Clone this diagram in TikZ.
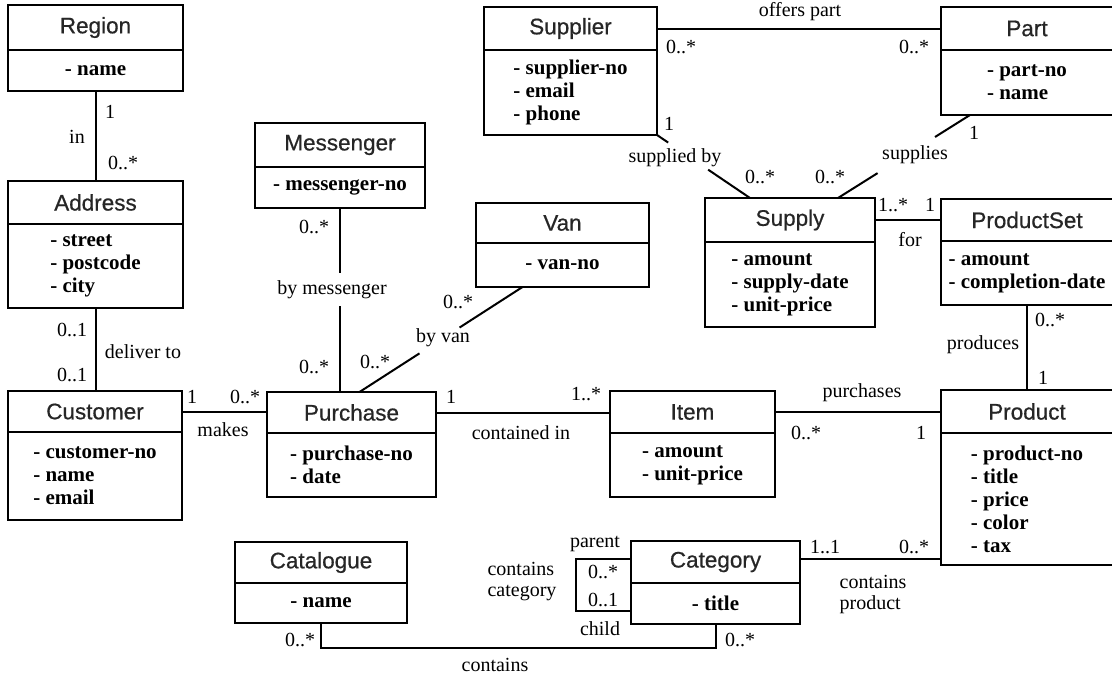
\documentclass[tikz,border=0pt]{standalone}
\usepackage{fontspec}
\setmainfont{Liberation Serif}
\newfontfamily\classtitlefont[FakeBold=0.6]{Liberation Sans}
\usetikzlibrary{calc}

\tikzset{
  classbox/.style={draw, line width=2pt, inner sep=0pt, outer sep=0pt, fill=white},
  boxline/.style={line width=2pt},
  ctitle/.style={font=\classtitlefont\fontsize{22.5}{26}\selectfont, text=black!85, inner sep=0pt},
  cattr/.style={font=\bfseries\fontsize{21}{23}\selectfont, align=left, inner sep=0pt},
  lbl/.style={font=\fontsize{20}{21}\selectfont, inner sep=0pt, align=left},
  conn/.style={line width=2pt, line cap=butt},
}

% #1 name, #2 left, #3 top, #4 right, #5 divider, #6 bottom, #7 title, #8 attributes
\newcommand{\umlclass}[8]{%
  \node[classbox, minimum width={#4-#2}, minimum height={#6-#3}] (#1) at ({(#2+#4)/2},{(#3+#6)/2}) {};
  \draw[boxline] (#2,#5) -- (#4,#5);
  \node[ctitle] (#1-t) at ({(#2+#4)/2},{(#3+#5)/2}) {#7};
  \node[cattr] (#1-a) at ({(#2+#4)/2},{(#5+#6)/2}) {#8};
}

\begin{document}
\begin{tikzpicture}[x=1pt, y=-1pt]
\useasboundingbox (0,0) rectangle (1112,675);

% classes
\umlclass{region}{8}{5}{183}{50}{91}{Region}{- name}
\umlclass{address}{8}{181}{183}{224}{308}{Address}{- street\\- postcode\\- city}
\umlclass{customer}{8}{391}{182}{432}{520}{Customer}{- customer-no\\- name\\- email}
\umlclass{messenger}{255}{123}{425}{167}{208}{Messenger}{- messenger-no}
\umlclass{van}{476}{203}{649}{243}{287}{Van}{- van-no}
\umlclass{purchase}{267}{392}{436}{433}{497}{Purchase}{- purchase-no\\- date}
\umlclass{supplier}{484}{7}{657}{50}{135}{Supplier}{- supplier-no\\- email\\- phone}
\umlclass{part}{941}{7}{1113}{50}{115}{Part}{- part-no\\- name}
\umlclass{supply}{705}{198}{875}{242}{327}{Supply}{- amount\\- supply-date\\- unit-price}
\umlclass{productset}{941}{199}{1113}{241}{305}{ProductSet}{- amount\\- completion-date}
\umlclass{item}{610}{391}{775}{433}{497}{Item}{- amount\\- unit-price}
\umlclass{product}{941}{390}{1113}{433}{565}{Product}{- product-no\\- title\\- price\\- color\\- tax}
\umlclass{catalogue}{235}{542}{407}{583}{623}{Catalogue}{- name}
\umlclass{category}{631}{541}{800}{583}{624}{Category}{- title}

% associations
\draw[conn] (region.south) -- (region.south |- address.north);
\draw[conn] (address.south) -- (address.south |- customer.north);
\draw[conn] (customer-t -| customer.east) -- (customer-t -| purchase.west);
\draw[conn] (purchase-t -| purchase.east) -- (purchase-t -| item.west);
\draw[conn] (item-t -| item.east) -- (item-t -| product.west);
\draw[conn] (supplier-t -| supplier.east) -- (supplier-t -| part.west);
\draw[conn] (productset-t -| supply.east) -- (productset-t -| productset.west);
\draw[conn] (productset.south) -- (productset.south |- product.north);
\draw[conn] ([yshift=-18pt]category.north east) -- ([yshift=-18pt]category.north east -| product.west);
\draw[conn] (catalogue.south) -- ++(0,25) -| (category.south);

% recursive association of Category
\draw[conn] ([yshift=-18pt]category.north west) -- ++(-55,0) -- ++(0,52) -- ([yshift=-70pt]category.north west);

% associations broken by their names
\path (messenger.south) -- (messenger.south |- purchase.north)
  coordinate[pos=0.353] (m1) coordinate[pos=0.533] (m2);
\draw[conn] (messenger.south) -- (m1);
\draw[conn] (m2) -- (messenger.south |- purchase.north);

\path ([xshift=-40pt]van.south) -- ([xshift=8pt]purchase.north)
  coordinate[pos=0.386] (v1) coordinate[pos=0.632] (v2);
\draw[conn] ([xshift=-40pt]van.south) -- (v1);
\draw[conn] (v2) -- ([xshift=8pt]purchase.north);

\path (supplier.south east) -- ([xshift=-40pt]supply.north)
  coordinate[pos=0.12] (s1) coordinate[pos=0.55] (s2);
\draw[conn] (supplier.south east) -- (s1);
\draw[conn] (s2) -- ([xshift=-40pt]supply.north);

\path ([xshift=-57pt]part.south) -- ([xshift=48pt]supply.north)
  coordinate[pos=0.265] (p1) coordinate[pos=0.70] (p2);
\draw[conn] ([xshift=-57pt]part.south) -- (p1);
\draw[conn] (p2) -- ([xshift=48pt]supply.north);

% names and multiplicities
\node[lbl] (l1) at (110,112) {1};
\node[lbl] (l2) at (77,137) {in};
\node[lbl] (l3) at (123,163) {0..*};

\node[lbl] (l4) at (72,330) {0..1};
\node[lbl] (l5) at (143,352) {deliver to};
\node[lbl] (l6) at (72,375) {0..1};

\node[lbl] (l7) at (192,397) {1};
\node[lbl] (l8) at (245,397) {0..*};
\node[lbl] (l9) at (223,430) {makes};

\node[lbl] (l10) at (314,227) {0..*};
\node[lbl] (l11) at (332,290) {by messenger};
\node[lbl] (l12) at (314,367) {0..*};

\node[lbl] (l13) at (458,302) {0..*};
\node[lbl] (l14) at (443,338) {by van};
\node[lbl] (l15) at (375,362) {0..*};

\node[lbl] (l16) at (451,397) {1};
\node[lbl] (l17) at (586,394) {1..*};
\node[lbl] (l18) at (521,433) {contained in};

\node[lbl] (l19) at (862,393) {purchases};
\node[lbl] (l20) at (806,433) {0..*};
\node[lbl] (l21) at (921,433) {1};

\node[lbl] (l22) at (800,12) {offers part};
\node[lbl] (l23) at (681,47) {0..*};
\node[lbl] (l24) at (914,47) {0..*};

\node[lbl] (l25) at (669,124) {1};
\node[lbl] (l26) at (675,158) {supplied by};
\node[lbl] (l27) at (760,177) {0..*};

\node[lbl] (l28) at (974,133) {1};
\node[lbl] (l29) at (915,155) {supplies};
\node[lbl] (l30) at (830,177) {0..*};

\node[lbl] (l31) at (893,205) {1..*};
\node[lbl] (l32) at (930,205) {1};
\node[lbl] (l33) at (910,240) {for};

\node[lbl] (l34) at (1050,320) {0..*};
\node[lbl] (l35) at (983,345) {produces};
\node[lbl] (l36) at (1043,378) {1};

\node[lbl] (l37) at (595,544) {parent};
\node[lbl] (l38) at (603,572) {0..*};
\node[lbl] (l39) at (603,600) {0..1};
\node[lbl] (l40) at (600,629) {child};
\node[lbl] (l41) at (522,582) {contains\\category};

\node[lbl] (l42) at (825,547) {1..1};
\node[lbl] (l43) at (914,547) {0..*};
\node[lbl] (l44) at (873,595) {contains\\product};

\node[lbl] (l45) at (300,640) {0..*};
\node[lbl] (l46) at (740,640) {0..*};
\node[lbl] (l47) at (495,665) {contains};
\end{tikzpicture}
\end{document}
